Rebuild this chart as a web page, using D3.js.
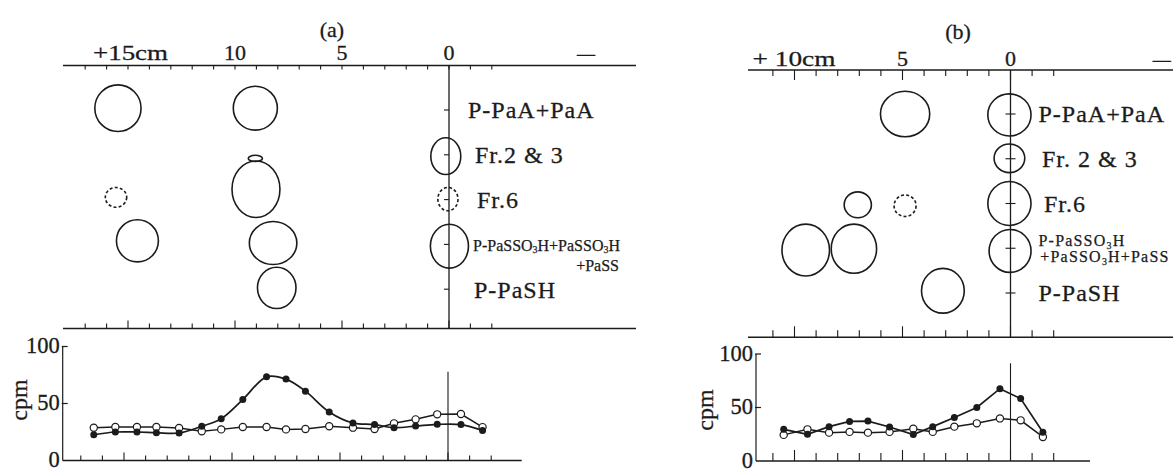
<!DOCTYPE html>
<html>
<head>
<meta charset="utf-8">
<script src="https://cdn.jsdelivr.net/npm/d3@7"></script>
<style>
  html, body { margin: 0; padding: 0; background: #fff; }
  svg { display: block; font-family: "Liberation Serif", "DejaVu Serif", serif; }
  text { stroke: #1b1b1b; stroke-width: 0.3px; }
  text.small { stroke-width: 0.25px; }
</style>
</head>
<body>
<svg id="chart" width="1173" height="473"></svg>
<script>
// ---- Radioactivity of the eluted fractions (cpm) along the paper (cm from origin) ----
const aPositions = [16.4, 15.4, 14.4, 13.5, 12.45, 11.4, 10.5, 9.5, 8.4, 7.5, 6.6, 5.5, 4.4, 3.4, 2.5, 1.5, 0.5, -0.6, -1.6];
const aFilled    = [22.6, 25, 25, 24.4, 24.1, 30, 36.7, 53.5, 73.4, 71.4, 60.8, 42.6, 32.9, 31.5, 28.8, 30.2, 31.7, 31.5, 26.4];
const aOpen      = [28.8, 29.4, 29.4, 29.4, 28.5, 25.6, 27.3, 29.4, 29.4, 27.3, 27.6, 30, 28.8, 27.6, 32.6, 36.1, 40.5, 40.8, 29.3];

const bPositions = [10.5, 9.4, 8.4, 7.45, 6.6, 5.6, 4.5, 3.6, 2.6, 1.56, 0.49, -0.47, -1.5];
const bFilled    = [29.6, 25, 32.1, 37, 37.3, 31.8, 24.7, 32.1, 40.7, 50, 67.6, 58.3, 26.9];
const bOpen      = [24.4, 29.6, 26.5, 27.2, 26.5, 27.2, 30.2, 27.2, 32.1, 35.2, 39.8, 38, 22.5];

// ---- Spots on the electrophoretogram: centre (cm, lane), half-widths (cm, lane units) ----
const aSpots = [
  { cm: 15.47, lane: -0.04, rx: 1.08, ry: 0.52 },
  { cm: 9.05,  lane: -0.04, rx: 1.03, ry: 0.49 },
  { cm: 9.05,  lane: 1.08,  rx: 0.33, ry: 0.07 },
  { cm: 9.02,  lane: 1.77,  rx: 1.12, ry: 0.63 },
  { cm: 15.56, lane: 1.95,  rx: 0.50, ry: 0.22, dashed: true },
  { cm: 0.15,  lane: 1.03,  rx: 0.70, ry: 0.41 },
  { cm: 0.05,  lane: 1.99,  rx: 0.47, ry: 0.26, dashed: true },
  { cm: 14.56, lane: 2.92,  rx: 0.98, ry: 0.47 },
  { cm: 8.22,  lane: 2.97,  rx: 1.11, ry: 0.48 },
  { cm: 8.05,  lane: 3.97,  rx: 0.90, ry: 0.46 },
  { cm: -0.02, lane: 3.04,  rx: 0.89, ry: 0.49 }
];
const bSpots = [
  { cm: 4.88, lane: 0.0,  rx: 1.14, ry: 0.51 },
  { cm: 0.05, lane: 0.02, rx: 1.00, ry: 0.47 },
  { cm: 0.05, lane: 0.99, rx: 0.71, ry: 0.32 },
  { cm: 0.05, lane: 2.0,  rx: 1.00, ry: 0.49 },
  { cm: 7.07, lane: 2.03, rx: 0.63, ry: 0.29 },
  { cm: 4.88, lane: 2.05, rx: 0.51, ry: 0.24, dashed: true },
  { cm: 9.48, lane: 3.04, rx: 1.10, ry: 0.58 },
  { cm: 7.25, lane: 3.01, rx: 1.05, ry: 0.55 },
  { cm: 3.13, lane: 3.95, rx: 0.99, ry: 0.50 },
  { cm: 0.02, lane: 3.06, rx: 0.97, ry: 0.48 }
];

// ---- Texts ----
const aLaneLabels = [["P-PaA+PaA"], ["Fr.2 & 3"], ["Fr.6"], ["P-PaSSO_3H+PaSSO_3H", "+PaSS"], ["P-PaSH"]];
const bLaneLabels = [["P-PaA+PaA"], ["Fr. 2 & 3"], ["Fr.6"], ["P-PaSSO_3H", "+PaSSO_3H+PaSS"], ["P-PaSH"]];
const aTickValues = [15, 10, 5, 0, -6.4];
const aTickLabels = ["+15cm", "10", "5", "0", "—"];
const bTickValues = [10, 5, 0, -7.0];
const bTickLabels = ["+ 10cm", "5", "0", "—"];
const cpmTicks = [0, 50, 100];
const cpmTitle = "cpm";

// ---- Layout of the two panels ----
const layoutA = {
  title: "(a)", titleX: 332, titleY: 37,
  topY: 65.5, midY: 328.5, axisX0: 63, axisX1: 636,
  cm0: 449, pxPerCm: 21.4, tickMax: 17, tickMin: -2,
  topTick: [4, 4], midTick: [5, 8], labelBase: 60, firstLabelDx: -35, firstLabelLen: 75,
  lane0: 110, laneStep: 44.8, laneTick: [5, 0],
  labelX: 19, labelDx: [0, 7, 9, 5, 6], bigFont: 24, bigSpacing: 1,
  smallFont: 16, smallSpacing: 0, twoLineDy: [0.6, 20.6], secondAlign: "end", secondDx: 0,
  plot: { cm0: 448, pxPerCm: 21.6, axisX0: 62.7, axisX1: 521.7, y0: 460.5, y100: 346.5,
          vTop: 371.7, tick: [5, 8], cpmX: 19, cpmY: 400, smoothFilled: true }
};
const layoutB = {
  title: "(b)", titleX: 958, titleY: 39,
  topY: 70, midY: 337.3, axisX0: 748, axisX1: 1173,
  cm0: 1010.5, pxPerCm: 21.6, tickMax: 11, tickMin: -2,
  topTick: [6, 10], midTick: [7, 11], labelBase: 66, firstLabelDx: -42, firstLabelLen: 83,
  lane0: 114, laneStep: 44.75, laneTick: [5, 5],
  labelX: 28, labelDx: [0, 3.5, 5.5, 0, 0], bigFont: 24, bigSpacing: 1,
  smallFont: 16, smallSpacing: 1.2, twoLineDy: [-8, 8.5], secondAlign: "start", secondDx: 1.8,
  plot: { cm0: 1010.5, pxPerCm: 21.6, axisX0: 756, axisX1: 1090, y0: 461, y100: 354,
          vTop: 363.3, tick: [8, 11], cpmX: 705, cpmY: 410, smoothFilled: false }
};

const ink = "#1b1b1b";
const svg = d3.select("#chart");

// Writes a label into a <text>, turning "_3" into a lowered small digit.
function richText(textSel, str, size) {
  const parts = str.split(/_(\d)/);
  let lowered = false;
  parts.forEach((p, i) => {
    if (!p) return;
    const t = textSel.append("tspan").text(p);
    if (i % 2 === 1) {
      t.attr("font-size", size * 0.62).attr("dy", size * 0.18);
      lowered = true;
    } else if (lowered) {
      t.attr("dy", -size * 0.18);
      lowered = false;
    }
  });
  return textSel;
}

function drawPanel(L, positions, filled, open, spots, laneLabels, tickValues, tickLabels) {
  const g = svg.append("g");
  const x = d3.scaleLinear().domain([0, 1]).range([L.cm0, L.cm0 - L.pxPerCm]);
  const lane = d3.scaleLinear().domain([0, 1]).range([L.lane0, L.lane0 + L.laneStep]);
  const cmTicks = d3.range(L.tickMax, L.tickMin - 1, -1);
  const major = v => v % 5 === 0;

  g.append("text").attr("x", L.titleX).attr("y", L.titleY)
    .attr("text-anchor", "middle").attr("font-size", 22).attr("fill", ink).text(L.title);

  // upper and lower edge lines of the paper strip
  [L.topY, L.midY].forEach(yy => {
    g.append("line").attr("x1", L.axisX0).attr("x2", L.axisX1).attr("y1", yy).attr("y2", yy)
      .attr("stroke", ink).attr("stroke-width", 1.4);
  });
  g.selectAll(null).data(cmTicks).join("line")
    .attr("x1", d => x(d)).attr("x2", d => x(d))
    .attr("y1", L.topY).attr("y2", d => L.topY + (major(d) ? L.topTick[1] : L.topTick[0]))
    .attr("stroke", ink).attr("stroke-width", 1.1);
  g.selectAll(null).data(cmTicks).join("line")
    .attr("x1", d => x(d)).attr("x2", d => x(d))
    .attr("y1", L.midY).attr("y2", d => L.midY - (major(d) ? L.midTick[1] : L.midTick[0]))
    .attr("stroke", ink).attr("stroke-width", 1.1);

  // distance labels
  tickValues.forEach((v, i) => {
    const t = g.append("text").attr("y", L.labelBase).attr("font-size", 22).attr("fill", ink)
      .text(tickLabels[i]);
    if (i === 0) {
      t.attr("x", x(v) + L.firstLabelDx).attr("text-anchor", "start")
        .attr("textLength", L.firstLabelLen).attr("lengthAdjust", "spacingAndGlyphs");
    } else if (tickLabels[i] === "—") {
      t.attr("x", x(v)).attr("text-anchor", "middle").attr("font-size", 18).attr("stroke-width", 0.15);
    } else {
      t.attr("x", x(v)).attr("text-anchor", "middle");
    }
  });

  // origin line and lane marks
  g.append("line").attr("x1", x(0)).attr("x2", x(0)).attr("y1", L.topY).attr("y2", L.midY)
    .attr("stroke", ink).attr("stroke-width", 1.3);
  g.selectAll(null).data(d3.range(laneLabels.length)).join("line")
    .attr("x1", x(0) - L.laneTick[0]).attr("x2", x(0) + L.laneTick[1])
    .attr("y1", d => lane(d)).attr("y2", d => lane(d))
    .attr("stroke", ink).attr("stroke-width", 1.1);

  // spots
  g.selectAll(null).data(spots).join("ellipse")
    .attr("cx", d => x(d.cm)).attr("cy", d => lane(d.lane))
    .attr("rx", d => Math.abs(x(d.rx) - x(0))).attr("ry", d => lane(d.ry) - lane(0))
    .attr("fill", "none").attr("stroke", ink).attr("stroke-width", 1.6)
    .attr("stroke-dasharray", d => d.dashed ? "3,2.2" : null);

  // lane names
  laneLabels.forEach((lines, i) => {
    const lx = x(0) + L.labelX + L.labelDx[i];
    if (lines.length === 1) {
      const t = g.append("text").attr("x", lx).attr("y", lane(i)).attr("dy", "0.35em")
        .attr("font-size", L.bigFont).attr("letter-spacing", L.bigSpacing).attr("fill", ink);
      richText(t, lines[0], L.bigFont);
    } else {
      const t1 = g.append("text").attr("class", "small").attr("x", lx).attr("y", lane(i) + L.twoLineDy[0]).attr("dy", "0.35em")
        .attr("font-size", L.smallFont).attr("letter-spacing", L.smallSpacing).attr("fill", ink);
      richText(t1, lines[0], L.smallFont);
      const w = t1.node().getComputedTextLength();
      const t2 = g.append("text").attr("class", "small").attr("y", lane(i) + L.twoLineDy[1]).attr("dy", "0.35em")
        .attr("font-size", L.smallFont).attr("letter-spacing", L.smallSpacing).attr("fill", ink);
      if (L.secondAlign === "end") t2.attr("x", lx + w - 1).attr("text-anchor", "end");
      else t2.attr("x", lx + L.secondDx);
      richText(t2, lines[1], L.smallFont);
    }
  });

  // ---- counting curve below the strip ----
  const P = L.plot;
  const xb = d3.scaleLinear().domain([0, 1]).range([P.cm0, P.cm0 - P.pxPerCm]);
  const y = d3.scaleLinear().domain([0, 100]).range([P.y0, P.y100]);
  const plotTicks = cmTicks.filter(d => xb(d) > P.axisX0 + 3 && xb(d) < P.axisX1);

  g.append("line").attr("x1", P.axisX0).attr("x2", P.axisX1).attr("y1", y(0)).attr("y2", y(0))
    .attr("stroke", ink).attr("stroke-width", 1.4);
  g.append("line").attr("x1", P.axisX0).attr("x2", P.axisX0).attr("y1", y(100)).attr("y2", y(0))
    .attr("stroke", ink).attr("stroke-width", 1.2);
  g.selectAll(null).data(plotTicks).join("line")
    .attr("x1", d => xb(d)).attr("x2", d => xb(d))
    .attr("y1", y(0)).attr("y2", d => y(0) - (major(d) ? P.tick[1] : P.tick[0]))
    .attr("stroke", ink).attr("stroke-width", 1.1);
  g.selectAll(null).data(cpmTicks.filter(d => d > 0)).join("line")
    .attr("x1", P.axisX0 - 1).attr("x2", P.axisX0 + 5)
    .attr("y1", d => y(d)).attr("y2", d => y(d))
    .attr("stroke", ink).attr("stroke-width", 1.2);
  g.selectAll(null).data(cpmTicks).join("text")
    .attr("x", P.axisX0 - 3).attr("y", d => y(d)).attr("dy", "0.3em")
    .attr("text-anchor", "end").attr("font-size", 22.5).attr("fill", ink)
    .attr("stroke-width", 0.6).text(d => d);
  g.append("text").attr("transform", `translate(${P.cpmX},${P.cpmY}) rotate(-90)`)
    .attr("text-anchor", "middle").attr("dy", "0.33em").attr("font-size", 24).attr("fill", ink)
    .attr("stroke-width", 0.6).text(cpmTitle);
  g.append("line").attr("x1", xb(0)).attr("x2", xb(0)).attr("y1", P.vTop).attr("y2", y(0))
    .attr("stroke", ink).attr("stroke-width", 1.1);

  const rows = positions.map((p, i) => ({ p, f: filled[i], o: open[i] }));
  const lineF = d3.line().x(d => xb(d.p)).y(d => y(d.f))
    .curve(P.smoothFilled ? d3.curveCatmullRom.alpha(0.5) : d3.curveLinear);
  const lineO = d3.line().x(d => xb(d.p)).y(d => y(d.o));
  g.append("path").attr("d", lineO(rows)).attr("fill", "none").attr("stroke", ink).attr("stroke-width", 1.5);
  g.append("path").attr("d", lineF(rows)).attr("fill", "none").attr("stroke", ink).attr("stroke-width", 1.7);
  g.selectAll(null).data(rows).join("circle")
    .attr("cx", d => xb(d.p)).attr("cy", d => y(d.o)).attr("r", 3.6)
    .attr("fill", "#fff").attr("stroke", ink).attr("stroke-width", 1.2);
  g.selectAll(null).data(rows).join("circle")
    .attr("cx", d => xb(d.p)).attr("cy", d => y(d.f)).attr("r", 3.5)
    .attr("fill", ink);
}

drawPanel(layoutA, aPositions, aFilled, aOpen, aSpots, aLaneLabels, aTickValues, aTickLabels);
drawPanel(layoutB, bPositions, bFilled, bOpen, bSpots, bLaneLabels, bTickValues, bTickLabels);
</script>
</body>
</html>
